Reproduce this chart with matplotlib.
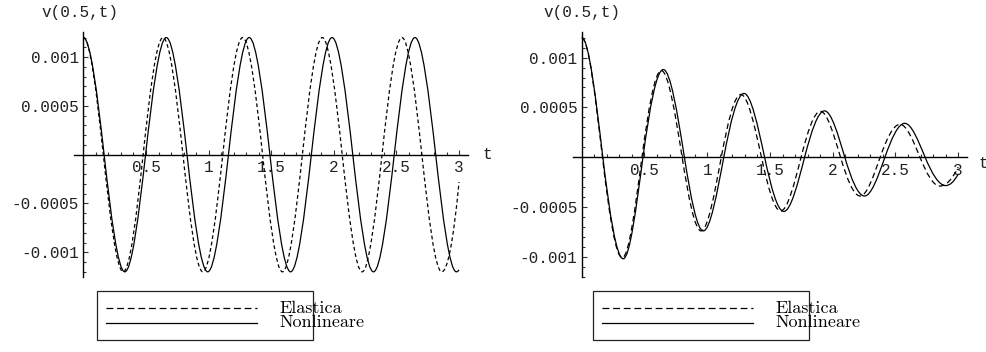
import matplotlib

matplotlib.use("Agg")
import matplotlib.pyplot as plt
import numpy as np
from matplotlib.lines import Line2D
from matplotlib.patches import PathPatch, Rectangle
from matplotlib.path import Path

W, H = 987, 352
MONO = "Liberation Mono"
SERIF = "cmr10"

# v(0.5, t): extrema and zero crossings of each response curve
LEFT_ELASTIC_T = [0, 0.159, 0.318, 0.477, 0.636, 0.795, 0.954, 1.113, 1.272, 1.431,
                  1.590, 1.749, 1.908, 2.067, 2.226, 2.385, 2.544, 2.703, 2.862, 3.0]
LEFT_ELASTIC_V = [0.0012, 0, -0.0012, 0, 0.0012, 0, -0.0012, 0, 0.0012, 0,
                  -0.0012, 0, 0.0012, 0, -0.0012, 0, 0.0012, 0, -0.0012, -0.00028]

LEFT_NONLIN_T = [0, 0.1655, 0.331, 0.4965, 0.662, 0.8275, 0.993, 1.1585, 1.324, 1.4895,
                 1.655, 1.8205, 1.986, 2.1515, 2.317, 2.4825, 2.648, 2.8135, 2.979, 3.0]
LEFT_NONLIN_V = [0.0012, 0, -0.0012, 0, 0.0012, 0, -0.0012, 0, 0.0012, 0,
                 -0.0012, 0, 0.0012, 0, -0.0012, 0, 0.0012, 0, -0.0012, -0.00118]

RIGHT_ELASTIC_T = [0, 0.165, 0.323, 0.480, 0.634, 0.800, 0.951, 1.112, 1.268, 1.432,
                   1.585, 1.748, 1.902, 2.062, 2.219, 2.378, 2.536, 2.695, 2.853, 3.0]
RIGHT_ELASTIC_V = [0.0012, 0, -0.00101, 0, 0.00087, 0, -0.00074, 0, 0.00063, 0,
                   -0.00054, 0, 0.00046, 0, -0.00039, 0, 0.00033, 0, -0.00029, -0.0001]

RIGHT_NONLIN_T = [0, 0.168, 0.331, 0.488, 0.650, 0.818, 0.969, 1.132, 1.293, 1.457,
                  1.610, 1.776, 1.935, 2.096, 2.253, 2.416, 2.574, 2.736, 2.900, 3.0]
RIGHT_NONLIN_V = [0.0012, 0, -0.00102, 0, 0.00088, 0, -0.00074, 0, 0.00064, 0,
                  -0.000545, 0, 0.000465, 0, -0.00039, 0, 0.00034, 0, -0.000285, -0.00017]

X_TICKS = [0.5, 1, 1.5, 2, 2.5, 3]
X_TICK_LABELS = ["0.5", "1", "1.5", "2", "2.5", "3"]
Y_TICKS = [-0.001, -0.0005, 0.0005, 0.001]
Y_TICK_LABELS = ["-0.001", "-0.0005", "0.0005", "0.001"]
SERIES_LABELS = ["Elastica", "Nonlineare"]


def fig_xy(x, y):
    return x / W, 1 - y / H


def slopes_for(t, v):
    # rest at t=0, flat at extrema, sine-like slope through the zeros
    n = len(t)
    m = np.zeros(n)
    for i in range(1, n):
        if i == n - 1:
            m[i] = 2 * (v[i] - v[i - 1]) / (t[i] - t[i - 1])
        elif v[i] == 0:
            left = (v[i] - v[i - 1]) / (t[i] - t[i - 1])
            right = (v[i + 1] - v[i]) / (t[i + 1] - t[i])
            m[i] = np.pi / 2 * (left + right) / 2
    return m


def smooth_path(t, v):
    m = slopes_for(t, v)
    verts = [(t[0], v[0])]
    codes = [Path.MOVETO]
    for i in range(len(t) - 1):
        h = t[i + 1] - t[i]
        verts += [(t[i] + h / 3, v[i] + m[i] * h / 3),
                  (t[i + 1] - h / 3, v[i + 1] - m[i + 1] * h / 3),
                  (t[i + 1], v[i + 1])]
        codes += [Path.CURVE4] * 3
    return Path(verts, codes)


def make_panel(fig, box, xlim, ylim, curves, dash):
    x0, y0, x1, y1 = box
    ax = fig.add_axes([x0 / W, 1 - y1 / H, (x1 - x0) / W, (y1 - y0) / H])
    ax.set_xlim(*xlim)
    ax.set_ylim(*ylim)
    ax.patch.set_visible(False)
    for side in ("top", "right"):
        ax.spines[side].set_visible(False)
    for side in ("left", "bottom"):
        ax.spines[side].set_position(("data", 0))
        ax.spines[side].set_linewidth(1.0)

    ax.set_xticks(X_TICKS)
    ax.set_xticklabels(X_TICK_LABELS)
    ax.set_yticks(Y_TICKS)
    ax.set_yticklabels(Y_TICK_LABELS)
    ax.set_xticks(np.arange(0.1, 3.05, 0.1), minor=True)
    ax.set_yticks(np.arange(-0.0012, 0.00125, 0.0001), minor=True)
    ax.tick_params(which="both", direction="in", color="#333333", width=0.8,
                   labelsize=11.5, labelcolor="#222222")
    ax.tick_params(which="major", length=3.5)
    ax.tick_params(which="minor", length=2)
    ax.tick_params(axis="x", pad=4)
    ax.tick_params(axis="y", pad=3)
    for lab in ax.get_xticklabels() + ax.get_yticklabels():
        lab.set_fontfamily(MONO)

    for (t, v), ls in zip(curves, [(0, dash), "solid"]):
        ax.add_patch(PathPatch(smooth_path(t, v), fill=False, edgecolor="black",
                               linewidth=0.9, linestyle=ls, zorder=3))
    return ax


def draw_key(fig, x0, y0):
    w, h = 216, 49
    fx, fy = fig_xy(x0, y0 + h)
    fig.add_artist(Rectangle((fx, fy), w / W, h / H, transform=fig.transFigure,
                             fill=False, edgecolor="#222222", linewidth=0.9))
    rows = [(y0 + 17, (0, (5.5, 3))), (y0 + 31.5, "solid")]
    for (yy, ls), label in zip(rows, SERIES_LABELS):
        xa, ya = fig_xy(x0 + 9, yy)
        xb, _ = fig_xy(x0 + 160, yy)
        fig.add_artist(Line2D([xa, xb], [ya, ya], transform=fig.transFigure,
                              color="black", linewidth=0.9, linestyle=ls))
        tx, ty = fig_xy(x0 + 182, yy)
        fig.text(tx, ty, label, ha="left", va="center", fontsize=13,
                 family=SERIF)


fig = plt.figure(figsize=(W / 100, H / 100), dpi=100)

make_panel(fig, (74, 31.7, 467.8, 276.7), (-0.075, 3.07), (-0.00125, 0.00126),
           [(LEFT_ELASTIC_T, LEFT_ELASTIC_V), (LEFT_NONLIN_T, LEFT_NONLIN_V)],
           (3, 2.2))
make_panel(fig, (572.7, 31.7, 967, 276.7), (-0.072, 3.07), (-0.001085, 0.00126),
           [(RIGHT_ELASTIC_T, RIGHT_ELASTIC_V), (RIGHT_NONLIN_T, RIGHT_NONLIN_V)],
           (4.5, 2.8))

for x, y in [(41.5, 12.5), (543, 12.5)]:
    fig.text(*fig_xy(x, y), "v(0.5,t)", ha="left", va="center", fontsize=11.5,
             family=MONO, color="#222222")
for x, y in [(487, 154.5), (983, 163.3)]:
    fig.text(*fig_xy(x, y), "t", ha="center", va="center", fontsize=11.5,
             family=MONO, color="#222222")

draw_key(fig, 97, 291)
draw_key(fig, 593, 291)

fig.savefig("out.png", dpi=100)
